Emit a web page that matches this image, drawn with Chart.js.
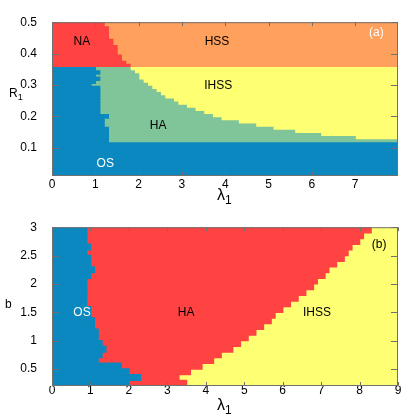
<!DOCTYPE html>
<html lang="en">
<head>
<meta charset="utf-8">
<title>Phase diagrams</title>
<script src="https://cdn.jsdelivr.net/npm/chart.js@4.4.1/dist/chart.umd.min.js"></script>
<style>
  body { margin: 0; background: #fff; }
  #wrap { position: relative; width: 415px; height: 418px; }
  canvas { position: absolute; left: 0; }
  #panelA { top: 0; }
  #panelB { top: 205px; }
</style>
</head>
<body>
<div id="wrap">
  <canvas id="panelA" width="415" height="205"></canvas>
  <canvas id="panelB" width="415" height="213"></canvas>
</div>
<script>
// ---- panel (a): rows of R1, bottom to top; edges are lambda1 values ----
const A_X_MAX = 7.99;
const rowsA_low = [0.01, 0.02, 0.03, 0.04, 0.05, 0.06, 0.07, 0.08, 0.09, 0.10, 0.11];
const rowsA_mid = [0.12, 0.13, 0.14, 0.15, 0.16, 0.17, 0.18, 0.19, 0.20, 0.21, 0.22, 0.23,
                   0.24, 0.25, 0.26, 0.27, 0.28, 0.29, 0.30, 0.31, 0.32, 0.33, 0.34, 0.35];
// right edge of OS and of HA in the middle band
const osEdgeA = [1.3, 1.3, 1.3, 1.3, 1.3, 1.2, 1.2, 1.2, 1.3, 1.1, 1.1, 1.1,
                 1.1, 1.1, 1.1, 1.1, 1.1, 1.1, 0.9, 1.0, 1.1, 1.0, 1.1, 1.0];
const haEdgeA = [7.99, 7.0, 6.2, 5.6, 5.1, 4.7, 4.3, 3.9, 3.7, 3.5, 3.3, 3.1,
                 2.9, 2.8, 2.6, 2.5, 2.4, 2.3, 2.2, 2.1, 2.0, 2.0, 1.9, 1.8];
const rowsA_top = [0.36, 0.37, 0.38, 0.39, 0.40, 0.41, 0.42, 0.43, 0.44, 0.45, 0.46, 0.47, 0.48, 0.49, 0.50];
// right edge of NA
const naEdgeA = [1.8, 1.7, 1.6, 1.6, 1.5, 1.5, 1.5, 1.4, 1.4, 1.3, 1.3, 1.3, 1.3, 1.2, 1.2];
const xTicksA = [0, 1, 2, 3, 4, 5, 6, 7];
const yTicksA = [0.1, 0.2, 0.3, 0.4, 0.5];

// ---- panel (b): rows of b, bottom to top ----
const B_X_MAX = 9;
const rowsB = [0.25, 0.35, 0.45, 0.55, 0.65, 0.75, 0.85, 0.95, 1.05, 1.15, 1.25, 1.35, 1.45, 1.55,
               1.65, 1.75, 1.85, 1.95, 2.05, 2.15, 2.25, 2.35, 2.45, 2.55, 2.65, 2.75, 2.85, 2.95];
const osEdgeB = [2.0, 2.3, 2.0, 1.8, 1.2, 1.3, 1.4, 1.3, 1.2, 1.2, 1.1, 1.1, 1.0, 1.0,
                 0.9, 0.9, 0.9, 0.9, 0.9, 1.0, 1.1, 1.0, 1.0, 0.9, 1.0, 0.9, 0.9, 0.9];
const haEdgeB = [3.5, 3.3, 3.6, 3.9, 4.2, 4.4, 4.7, 4.9, 5.1, 5.3, 5.5, 5.7, 5.8, 6.0,
                 6.2, 6.4, 6.6, 6.8, 6.9, 7.1, 7.2, 7.4, 7.6, 7.7, 7.8, 8.0, 8.1, 8.3];
const xTicksB = [0, 1, 2, 3, 4, 5, 6, 7, 8, 9];
const yTicksB = [0.5, 1, 1.5, 2, 2.5, 3];

const COLORS = {
  OS: '#0a88bf',
  HA: '#80c49a',
  IHSS: '#ffff73',
  NA: '#ff4242',
  HSS: '#ffa05c',
};
const FONT = '"Liberation Sans", Arial, sans-serif';

// floating bars [from, to] per row, dropping empty ones
function spans(rows, from, to) {
  return rows.map((r, i) => ({ y: r, x: [from(i), to(i)] }))
    .filter(d => d.x[1] > d.x[0]);
}

function region(data, color) {
  return {
    data: data,
    backgroundColor: color,
    borderWidth: 0,
    inflateAmount: 0.7,   // close the antialias seams between rows
    grouped: false,
    categoryPercentage: 1,
    barPercentage: 1,
  };
}

// frame, inward ticks, region names and axis titles
function overlay(labels, titles) {
  return {
    id: 'overlay',
    afterDatasetsDraw(chart) {
      const { ctx, chartArea: a, scales: { x, y } } = chart;
      ctx.save();
      ctx.strokeStyle = '#707070';
      ctx.lineWidth = 1;
      ctx.beginPath();
      x.ticks.forEach(t => {
        const px = Math.round(x.getPixelForValue(t.value)) + 0.5;
        ctx.moveTo(px, a.bottom); ctx.lineTo(px, a.bottom - 4);
        ctx.moveTo(px, a.top); ctx.lineTo(px, a.top + 4);
      });
      y.ticks.forEach(t => {
        const py = Math.round(y.getPixelForValue(t.value)) + 0.5;
        ctx.moveTo(a.left, py); ctx.lineTo(a.left + 7, py);
        ctx.moveTo(a.right, py); ctx.lineTo(a.right - 7, py);
      });
      ctx.stroke();
      ctx.strokeRect(a.left + 0.5, a.top + 0.5, a.right - a.left - 1, a.bottom - a.top - 1);

      ctx.font = '12px ' + FONT;
      ctx.textAlign = 'center';
      ctx.textBaseline = 'middle';
      labels.forEach(l => {
        ctx.fillStyle = l.color || '#000';
        ctx.fillText(l.text, x.getPixelForValue(l.x), y.getPixelForValue(l.y));
      });

      ctx.textAlign = 'left';
      ctx.textBaseline = 'alphabetic';
      ctx.fillStyle = '#000';
      titles.forEach(t => {
        let cx = t.x;
        t.parts.forEach(p => {
          ctx.font = p.size + 'px ' + FONT;
          ctx.fillText(p.text, cx, t.y + (p.dy || 0));
          cx += ctx.measureText(p.text).width;
        });
      });
      ctx.restore();
    }
  };
}

function makeChart(id, cfg) {
  return new Chart(document.getElementById(id), {
    type: 'bar',
    data: { datasets: cfg.datasets },
    options: {
      indexAxis: 'y',
      responsive: false,
      animation: false,
      events: [],
      layout: { padding: cfg.padding },
      plugins: { legend: { display: false }, tooltip: { enabled: false } },
      scales: {
        x: {
          type: 'linear',
          min: 0,
          max: cfg.xMax,
          grid: { display: false, drawTicks: false },
          border: { display: false },
          ticks: { color: '#000', padding: cfg.xPad, maxRotation: 0, font: { family: FONT, size: 12 }, callback: v => String(v) },
          afterBuildTicks: ax => { ax.ticks = cfg.xTicks.map(v => ({ value: v })); },
          afterFit: s => { s.height = cfg.xHeight; },
        },
        y: {
          type: 'linear',
          offset: false,
          min: cfg.yMin,
          max: cfg.yMax,
          grid: { display: false, drawTicks: false, offset: false },
          border: { display: false },
          ticks: { color: '#000', padding: 15, font: { family: FONT, size: 12 }, callback: v => String(v) },
          afterBuildTicks: ax => { ax.ticks = cfg.yTicks.map(v => ({ value: v })); },
          afterFit: s => { s.width = 52; },
        },
      },
    },
    plugins: [overlay(cfg.labels, cfg.titles)],
  });
}

makeChart('panelA', {
  datasets: [
    region(spans(rowsA_low, () => 0, () => A_X_MAX)
      .concat(spans(rowsA_mid, () => 0, i => osEdgeA[i])), COLORS.OS),
    region(spans(rowsA_mid, i => osEdgeA[i], i => haEdgeA[i]), COLORS.HA),
    region(spans(rowsA_mid, i => haEdgeA[i], () => A_X_MAX), COLORS.IHSS),
    region(spans(rowsA_top, () => 0, i => naEdgeA[i]), COLORS.NA),
    region(spans(rowsA_top, i => naEdgeA[i], () => A_X_MAX), COLORS.HSS),
  ],
  padding: { top: 11, right: 17, left: 0, bottom: 0 },
  xMax: A_X_MAX, yMin: 0.01, yMax: 0.5,
  xTicks: xTicksA, yTicks: yTicksA,
  xHeight: 29, xPad: 1,
  labels: [
    { text: 'NA', x: 0.69, y: 0.438 },
    { text: 'HSS', x: 3.81, y: 0.439 },
    { text: 'IHSS', x: 3.84, y: 0.2985 },
    { text: 'HA', x: 2.45, y: 0.169 },
    { text: 'OS', x: 1.23, y: 0.05, color: '#fff' },
    { text: '(a)', x: 7.49, y: 0.465, color: '#fff' },
  ],
  titles: [
    { x: 217, y: 200, parts: [{ text: 'λ', size: 16 }, { text: '1', size: 12, dy: 4 }] },
    { x: 9, y: 97, parts: [{ text: 'R', size: 12 }, { text: '1', size: 9, dy: 3 }] },
  ],
});

makeChart('panelB', {
  datasets: [
    region(spans(rowsB, () => 0, i => osEdgeB[i]), COLORS.OS),
    region(spans(rowsB, i => osEdgeB[i], i => haEdgeB[i]), COLORS.NA),
    region(spans(rowsB, i => haEdgeB[i], () => B_X_MAX), COLORS.IHSS),
  ],
  padding: { top: 16, right: 17, left: 0, bottom: 0 },
  xMax: B_X_MAX, yMin: 0.2, yMax: 3,
  xTicks: xTicksB, yTicks: yTicksB,
  xHeight: 32, xPad: -3,
  labels: [
    { text: 'OS', x: 0.78, y: 1.5, color: '#fff' },
    { text: 'HA', x: 3.49, y: 1.5 },
    { text: 'IHSS', x: 6.89, y: 1.5 },
    { text: '(b)', x: 8.51, y: 2.69 },
  ],
  titles: [
    { x: 217, y: 205, parts: [{ text: 'λ', size: 16 }, { text: '1', size: 12, dy: 4 }] },
    { x: 5, y: 103, parts: [{ text: 'b', size: 12 }] },
  ],
});
</script>
</body>
</html>
